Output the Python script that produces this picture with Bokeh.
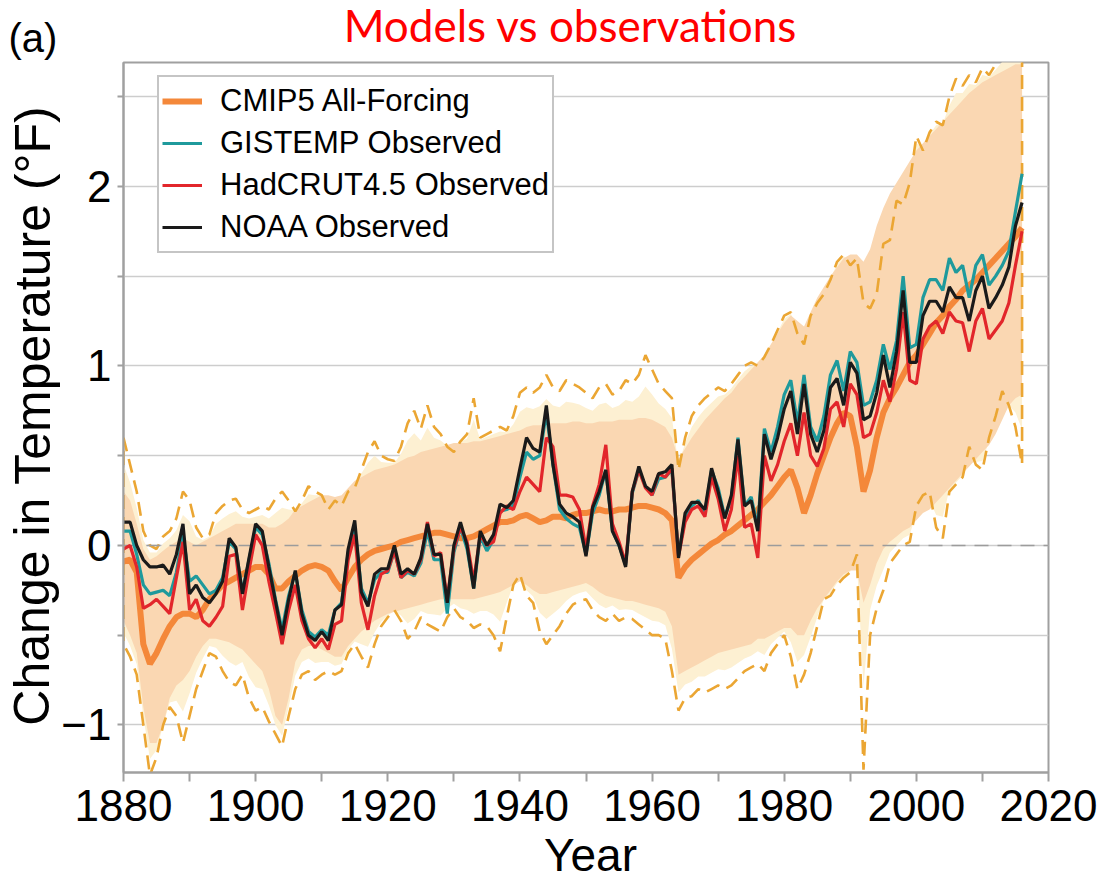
from bokeh.plotting import figure
from bokeh.models import Label, Legend, LegendItem, FixedTicker, Range1d
from bokeh.embed import file_html
from bokeh.resources import INLINE

# ---- data: annual global temperature change (deg F), 1880-2016 ----
years = list(range(1880, 2017))

noaa = [
    0.13, 0.13, 0.00, -0.08, -0.12, -0.12, -0.11, -0.16, -0.05, 0.12,
    -0.27, -0.22, -0.29, -0.32, -0.27, -0.20, 0.04, -0.01, -0.27, -0.07,
    0.12, 0.08, -0.12, -0.31, -0.50, -0.30, -0.14, -0.38, -0.50, -0.53,
    -0.48, -0.53, -0.36, -0.33, -0.02, 0.14, -0.26, -0.34, -0.16, -0.13,
    -0.13, 0.00, -0.16, -0.13, -0.16, -0.07, 0.12, -0.05, -0.05, -0.32,
    0.00, 0.13, 0.00, -0.24, 0.08, 0.00, 0.06, 0.23, 0.21, 0.25,
    0.43, 0.60, 0.54, 0.52, 0.78, 0.45, 0.23, 0.18, 0.16, 0.13,
    -0.06, 0.21, 0.30, 0.42, 0.08, 0.00, -0.12, 0.30, 0.44, 0.33,
    0.30, 0.40, 0.41, 0.45, -0.07, 0.18, 0.24, 0.24, 0.20, 0.43,
    0.30, 0.15, 0.28, 0.59, 0.22, 0.25, 0.08, 0.62, 0.48, 0.60,
    0.76, 0.86, 0.62, 0.90, 0.62, 0.52, 0.64, 0.88, 0.93, 0.78,
    1.02, 0.96, 0.70, 0.72, 0.85, 1.06, 0.88, 1.08, 1.42, 1.02,
    1.02, 1.28, 1.36, 1.36, 1.30, 1.44, 1.38, 1.38, 1.25, 1.42,
    1.50, 1.32, 1.38, 1.45, 1.55, 1.78, 1.91,
]

gistemp = [
    0.08, 0.08, -0.05, -0.22, -0.27, -0.26, -0.25, -0.28, -0.15, 0.06,
    -0.20, -0.17, -0.22, -0.27, -0.25, -0.18, 0.02, -0.02, -0.26, -0.08,
    0.10, 0.06, -0.10, -0.30, -0.47, -0.28, -0.15, -0.36, -0.48, -0.51,
    -0.47, -0.50, -0.36, -0.32, -0.04, 0.10, -0.24, -0.32, -0.19, -0.15,
    -0.15, -0.03, -0.18, -0.15, -0.17, -0.10, 0.08, -0.08, -0.08, -0.38,
    -0.04, 0.10, -0.02, -0.24, 0.05, -0.03, 0.03, 0.19, 0.20, 0.22,
    0.38, 0.52, 0.48, 0.50, 0.74, 0.45, 0.20, 0.15, 0.12, 0.10,
    -0.05, 0.18, 0.28, 0.42, 0.08, 0.00, -0.11, 0.29, 0.42, 0.33,
    0.28, 0.37, 0.38, 0.42, -0.05, 0.15, 0.22, 0.25, 0.18, 0.42,
    0.32, 0.16, 0.26, 0.60, 0.22, 0.27, 0.10, 0.65, 0.52, 0.66,
    0.84, 0.92, 0.68, 0.95, 0.66, 0.58, 0.72, 0.95, 1.03, 0.86,
    1.08, 1.02, 0.78, 0.80, 0.92, 1.12, 0.98, 1.14, 1.50, 1.10,
    1.12, 1.38, 1.48, 1.48, 1.42, 1.60, 1.52, 1.56, 1.38, 1.56,
    1.62, 1.45, 1.50, 1.56, 1.64, 1.86, 2.07,
]

hadcrut = [
    -0.02, 0.00, -0.12, -0.35, -0.33, -0.30, -0.34, -0.38, -0.18, 0.02,
    -0.36, -0.30, -0.42, -0.45, -0.40, -0.34, -0.06, -0.05, -0.36, -0.14,
    0.06, 0.00, -0.20, -0.37, -0.55, -0.36, -0.22, -0.42, -0.52, -0.57,
    -0.52, -0.58, -0.44, -0.42, -0.08, 0.06, -0.32, -0.47, -0.28, -0.16,
    -0.14, -0.03, -0.18, -0.14, -0.16, -0.08, 0.13, -0.06, -0.04, -0.30,
    -0.02, 0.10, 0.02, -0.20, 0.06, 0.00, 0.02, 0.18, 0.22, 0.20,
    0.30, 0.38, 0.34, 0.30, 0.60, 0.55, 0.28, 0.28, 0.27, 0.20,
    -0.02, 0.22, 0.34, 0.56, 0.12, 0.02, -0.10, 0.30, 0.42, 0.32,
    0.28, 0.40, 0.38, 0.43, -0.06, 0.13, 0.20, 0.22, 0.16, 0.38,
    0.26, 0.08, 0.20, 0.50, 0.10, 0.12, -0.07, 0.50, 0.36, 0.45,
    0.58, 0.68, 0.50, 0.74, 0.50, 0.44, 0.54, 0.76, 0.80, 0.66,
    0.90, 0.84, 0.60, 0.62, 0.74, 0.92, 0.80, 0.98, 1.30, 0.92,
    0.90, 1.15, 1.22, 1.25, 1.18, 1.30, 1.25, 1.24, 1.08, 1.25,
    1.32, 1.15, 1.20, 1.25, 1.35, 1.56, 1.75,
]

cmip5_mean = [
    -0.09, -0.08, -0.15, -0.55, -0.66, -0.60, -0.52, -0.45, -0.40, -0.38,
    -0.38, -0.40, -0.36, -0.30, -0.26, -0.22, -0.20, -0.18, -0.16, -0.14,
    -0.12, -0.12, -0.16, -0.24, -0.24, -0.20, -0.17, -0.14, -0.12, -0.11,
    -0.12, -0.14, -0.20, -0.25, -0.18, -0.12, -0.08, -0.05, -0.03, -0.02,
    -0.01, 0.00, 0.02, 0.03, 0.04, 0.05, 0.06, 0.07, 0.07, 0.06,
    0.05, 0.04, 0.04, 0.05, 0.07, 0.09, 0.11, 0.13, 0.13, 0.14,
    0.16, 0.17, 0.15, 0.13, 0.14, 0.16, 0.16, 0.15, 0.17, 0.18,
    0.18, 0.19, 0.20, 0.19, 0.19, 0.20, 0.20, 0.21, 0.22, 0.22,
    0.21, 0.20, 0.18, 0.14, -0.18, -0.12, -0.08, -0.05, -0.02, 0.01,
    0.03, 0.06, 0.08, 0.11, 0.14, 0.17, 0.20, 0.24, 0.28, 0.33,
    0.38, 0.42, 0.32, 0.18, 0.28, 0.40, 0.50, 0.60, 0.68, 0.74,
    0.72, 0.55, 0.30, 0.42, 0.60, 0.74, 0.82, 0.88, 0.95, 1.02,
    1.06, 1.12, 1.18, 1.24, 1.28, 1.33, 1.37, 1.42, 1.45, 1.48,
    1.52, 1.56, 1.60, 1.64, 1.68, 1.72, 1.77,
]

# model spread: central range (shaded) and full range (dashed outline)
cmip5_hi = [
    0.30, 0.25, 0.12, -0.02, -0.08, -0.06, -0.03, 0.00, 0.02, 0.04,
    0.02, 0.00, 0.02, 0.04, 0.06, 0.08, 0.10, 0.12, 0.12, 0.12,
    0.12, 0.12, 0.10, 0.10, 0.12, 0.15, 0.20, 0.22, 0.24, 0.26,
    0.28, 0.28, 0.27, 0.28, 0.32, 0.36, 0.38, 0.40, 0.42, 0.43,
    0.44, 0.45, 0.47, 0.49, 0.50, 0.52, 0.53, 0.54, 0.55, 0.56,
    0.57, 0.57, 0.57, 0.58, 0.58, 0.59, 0.60, 0.61, 0.62, 0.63,
    0.64, 0.66, 0.67, 0.67, 0.68, 0.68, 0.68, 0.68, 0.69, 0.69,
    0.68, 0.68, 0.69, 0.69, 0.69, 0.70, 0.70, 0.70, 0.71, 0.71,
    0.70, 0.68, 0.66, 0.60, 0.48, 0.54, 0.60, 0.65, 0.70, 0.74,
    0.78, 0.82, 0.85, 0.90, 0.94, 0.98, 1.02, 1.06, 1.12, 1.18,
    1.24, 1.28, 1.25, 1.22, 1.30, 1.38, 1.44, 1.50, 1.55, 1.60,
    1.62, 1.62, 1.58, 1.65, 1.78, 1.88, 1.96, 2.02, 2.08, 2.14,
    2.20, 2.24, 2.28, 2.32, 2.36, 2.40, 2.44, 2.48, 2.52, 2.55,
    2.58, 2.60, 2.62, 2.64, 2.66, 2.68, 2.68,
]

cmip5_lo = [
    -0.42, -0.50, -0.60, -0.90, -1.10, -1.10, -1.00, -0.85, -0.78, -0.75,
    -0.70, -0.62, -0.56, -0.52, -0.52, -0.53, -0.54, -0.56, -0.58, -0.62,
    -0.66, -0.70, -0.80, -0.95, -1.00, -0.85, -0.65, -0.58, -0.56, -0.56,
    -0.58, -0.60, -0.62, -0.62, -0.56, -0.52, -0.48, -0.45, -0.42, -0.40,
    -0.38, -0.37, -0.36, -0.35, -0.34, -0.33, -0.32, -0.31, -0.30, -0.30,
    -0.30, -0.30, -0.30, -0.30, -0.29, -0.28, -0.27, -0.26, -0.24, -0.22,
    -0.20, -0.22, -0.25, -0.27, -0.27, -0.26, -0.25, -0.24, -0.23, -0.22,
    -0.21, -0.23, -0.26, -0.28, -0.29, -0.30, -0.31, -0.31, -0.32, -0.33,
    -0.34, -0.35, -0.37, -0.45, -0.72, -0.70, -0.68, -0.66, -0.64, -0.62,
    -0.60, -0.59, -0.58, -0.57, -0.56, -0.55, -0.52, -0.52, -0.50, -0.48,
    -0.46, -0.46, -0.50, -0.50, -0.42, -0.35, -0.30, -0.25, -0.20, -0.16,
    -0.14, -0.14, -0.32, -0.22, -0.10, -0.02, 0.02, 0.05, 0.08, 0.10,
    0.14, 0.18, 0.20, 0.24, 0.28, 0.32, 0.36, 0.40, 0.44, 0.48,
    0.52, 0.56, 0.62, 0.70, 0.78, 0.82, 0.84,
]

cmip5_max = [
    0.60, 0.45, 0.30, 0.08, 0.00, -0.02, 0.05, 0.08, 0.15, 0.30,
    0.25, 0.10, 0.04, 0.06, 0.18, 0.22, 0.25, 0.26, 0.20, 0.18,
    0.20, 0.22, 0.20, 0.26, 0.30, 0.25, 0.19, 0.25, 0.33, 0.30,
    0.28, 0.20, 0.25, 0.22, 0.30, 0.32, 0.42, 0.52, 0.58, 0.50,
    0.48, 0.47, 0.55, 0.68, 0.75, 0.65, 0.78, 0.66, 0.62, 0.55,
    0.52, 0.58, 0.62, 0.82, 0.60, 0.62, 0.64, 0.66, 0.64, 0.72,
    0.85, 0.88, 0.85, 0.88, 0.95, 0.88, 0.86, 0.92, 0.90, 0.88,
    0.85, 0.82, 0.88, 0.90, 0.84, 0.86, 0.92, 0.90, 0.95, 1.06,
    0.98, 0.90, 0.86, 0.82, 0.42, 0.60, 0.72, 0.78, 0.82, 0.85,
    0.88, 0.86, 0.90, 0.95, 1.00, 1.02, 1.00, 1.05, 1.12, 1.20,
    1.28, 1.30, 1.18, 1.12, 1.28, 1.35, 1.40, 1.48, 1.58, 1.62,
    1.56, 1.60, 1.35, 1.32, 1.40, 1.68, 1.70, 1.92, 1.90, 2.02,
    2.28, 2.20, 2.30, 2.36, 2.34, 2.50, 2.60, 2.56, 2.62, 2.58,
    2.66, 2.62, 2.68, 2.75, 2.74, 2.78, 2.80,
]

cmip5_min = [
    -0.55, -0.62, -0.72, -1.00, -1.28, -1.18, -1.00, -0.90, -0.95, -1.10,
    -0.95, -0.80, -0.70, -0.60, -0.62, -0.70, -0.76, -0.78, -0.72, -0.85,
    -0.92, -0.90, -0.98, -1.05, -1.12, -0.95, -0.80, -0.72, -0.70, -0.75,
    -0.72, -0.70, -0.72, -0.70, -0.60, -0.55, -0.62, -0.68, -0.55, -0.45,
    -0.40, -0.36, -0.42, -0.52, -0.48, -0.40, -0.44, -0.46, -0.48, -0.40,
    -0.35, -0.40, -0.42, -0.46, -0.44, -0.45, -0.50, -0.59, -0.40, -0.22,
    -0.16, -0.28, -0.32, -0.48, -0.55, -0.50, -0.45, -0.38, -0.33, -0.31,
    -0.30, -0.36, -0.40, -0.42, -0.38, -0.42, -0.40, -0.41, -0.44, -0.47,
    -0.50, -0.50, -0.52, -0.70, -0.92, -0.85, -0.84, -0.80, -0.82, -0.80,
    -0.78, -0.80, -0.78, -0.74, -0.70, -0.68, -0.66, -0.70, -0.60, -0.55,
    -0.50, -0.62, -0.80, -0.72, -0.60, -0.45, -0.30, -0.28, -0.22, -0.18,
    -0.15, -0.05, -1.25, -0.50, -0.35, -0.25, -0.10, -0.05, 0.00, 0.02,
    0.22, 0.28, 0.30, 0.10, 0.04, 0.30, 0.34, 0.38, 0.55, 0.45,
    0.42, 0.60, 0.72, 0.86, 0.78, 0.66, 0.45,
]

x_ticks = [1880, 1900, 1920, 1940, 1960, 1980, 2000, 2020]
x_minor_ticks = [1890, 1910, 1930, 1950, 1970, 1990, 2010]
y_ticks = [-1, 0, 1, 2]
y_minor_ticks = [-0.5, 0.5, 1.5, 2.5]
y_tick_labels = {-1: "\u22121", 0: "0", 1: "1", 2: "2"}

# ---- styling ----
SANS = "'Liberation Sans', Arial, sans-serif"
TITLE_FONT = "Lato, 'Open Sans', sans-serif"
ORANGE = "#F4883A"
TEAL = "#1F9A9C"
RED = "#E2262B"
BLACK = "#1A1A1A"
PEACH = "#FAD7B2"
CREAM = "#FDF0D2"
GOLD = "#EBA633"
GRID = "#CDCDCD"
FRAME = "#A0A0A0"

p = figure(
    width=1101, height=879,
    min_border_left=123, min_border_right=53,
    min_border_top=62, min_border_bottom=107,
    x_range=Range1d(1880, 2020), y_range=Range1d(-1.265, 2.69),
    output_backend="svg", toolbar_location=None,
    background_fill_color="white", border_fill_color="white",
)
p.outline_line_color = FRAME
p.outline_line_width = 2

# soft cream halo around the shaded range
halo_hi = [h + 0.5 * (m - h) for h, m in zip(cmip5_hi, cmip5_max)]
halo_lo = [l + 0.5 * (m - l) for l, m in zip(cmip5_lo, cmip5_min)]
p.varea(x=years, y1=halo_lo, y2=halo_hi, fill_color=CREAM)
p.varea(x=years, y1=cmip5_lo, y2=cmip5_hi, fill_color=PEACH)

# full model range as a dashed closed outline
outline_x = years + years[::-1] + [years[0]]
outline_y = cmip5_max + cmip5_min[::-1] + [cmip5_max[0]]
p.line(outline_x, outline_y, line_color=GOLD, line_width=2.6, line_dash="14 8")

# zero reference line
p.hspan(y=[0], line_color="#9C9C9C", line_width=1.6, line_dash="14 9")

r_cmip = p.line(years, cmip5_mean, line_color=ORANGE, line_width=6)
r_giss = p.line(years, gistemp, line_color=TEAL, line_width=3.2)
r_had = p.line(years, hadcrut, line_color=RED, line_width=3.2)
r_noaa = p.line(years, noaa, line_color=BLACK, line_width=3.2)

# axes
p.xaxis.ticker = FixedTicker(ticks=x_ticks, minor_ticks=x_minor_ticks)
p.yaxis.ticker = FixedTicker(ticks=y_ticks, minor_ticks=y_minor_ticks)
p.yaxis.major_label_overrides = y_tick_labels
for ax in (p.xaxis, p.yaxis):
    ax.axis_line_color = FRAME
    ax.axis_line_width = 2
    ax.major_tick_line_color = FRAME
    ax.minor_tick_line_color = FRAME
    ax.major_tick_line_width = 2
    ax.minor_tick_line_width = 2
    ax.major_tick_in = 0
    ax.minor_tick_in = 0
    ax.major_label_text_color = "black"
    ax.major_label_text_font = SANS
    ax.major_label_text_font_size = "44px"
p.xaxis.major_tick_out = 9
p.xaxis.minor_tick_out = 9
p.yaxis.major_tick_out = 6
p.yaxis.minor_tick_out = 6
p.xaxis.major_label_standoff = 8
p.yaxis.major_label_standoff = 6

p.xgrid.grid_line_color = None
p.ygrid.grid_line_color = GRID
p.ygrid.grid_line_width = 1.6
p.ygrid.minor_grid_line_color = GRID
p.ygrid.minor_grid_line_width = 1.6


def canvas_label(text, x, y, panel, **kw):
    """Text placed in canvas pixels; one label per side panel."""
    lab = Label(x=x, y=y, x_units="canvas", y_units="canvas", text=text,
                text_baseline="middle", **kw)
    p.add_layout(lab, panel)


canvas_label("Models vs observations", 570, 24, "above",
             text_font=TITLE_FONT, text_font_size="44px",
             text_align="center", text_color="#FF0000")
canvas_label("(a)", 8, 37, "right", text_font=SANS, text_font_size="40px",
             text_align="left", text_color="black")
canvas_label("Change in Temperature (\u00b0F)", 32, 415, "left", angle=1.5707963,
             text_font=SANS, text_font_size="50px",
             text_align="center", text_color="black")
canvas_label("Year", 590, 854, "below", text_font=SANS, text_font_size="46px",
             text_align="center", text_color="black")

legend = Legend(items=[
    LegendItem(label="CMIP5 All-Forcing", renderers=[r_cmip]),
    LegendItem(label="GISTEMP Observed", renderers=[r_giss]),
    LegendItem(label="HadCRUT4.5 Observed", renderers=[r_had]),
    LegendItem(label="NOAA Observed", renderers=[r_noaa]),
], location=(34, 519))
legend.label_text_font = SANS
legend.label_text_font_size = "31px"
legend.label_text_color = "black"
legend.label_height = 42
legend.glyph_height = 42
legend.glyph_width = 40
legend.label_standoff = 18
legend.spacing = 0
legend.padding = 3
legend.margin = 0
legend.border_line_color = "#8C8C8C"
legend.border_line_width = 2
legend.background_fill_color = "white"
legend.background_fill_alpha = 1.0
p.add_layout(legend, "center")

open("out.html", "w").write(file_html(p, INLINE))
